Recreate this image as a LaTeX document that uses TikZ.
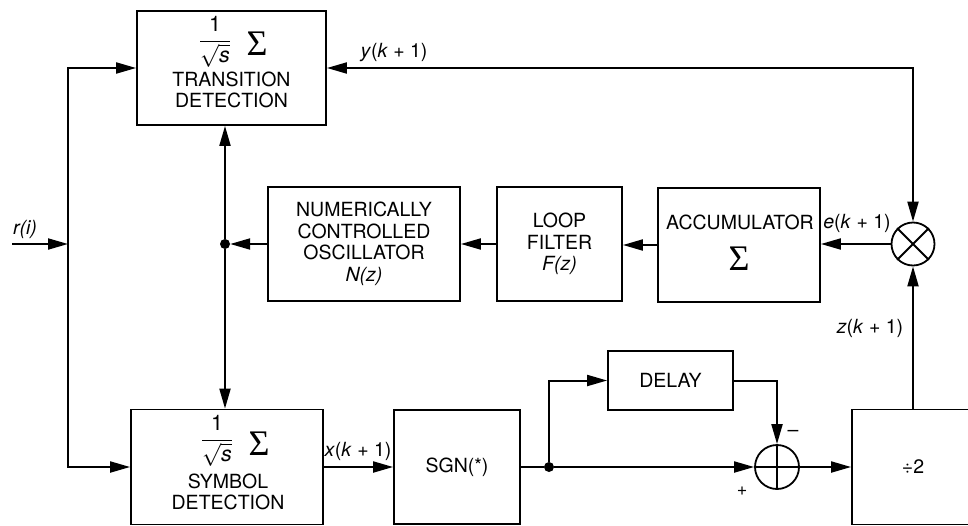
\documentclass[tikz,border=0pt]{standalone}
\usepackage{fontspec}
\setmainfont{TeX Gyre Heros}
\newfontfamily\sigmafont{Liberation Serif}
\usetikzlibrary{arrows.meta,calc}
\newcommand{\nfont}{\fontsize{19.5}{21.5}\selectfont}
\newcommand{\bigsig}{\(\vcenter{\hbox{\sigmafont\fontsize{36}{36}\selectfont Σ}}\)}
\newcommand{\invsqrt}{\scalebox{1.1}{\(\displaystyle\frac{\textrm{1}}{\sqrt{\textit{s}}}\)}}
\begin{document}
\begin{tikzpicture}[x=1pt,y=-1pt,
  font=\nfont,
  blk/.style={draw,line width=1.8pt,rectangle,inner sep=0pt,align=center},
  txt/.style={inner sep=0pt,align=center},
  arr/.style={line width=2pt,-{Triangle[length=20pt,width=11pt]}},
  arrb/.style={line width=2pt,{Triangle[length=20pt,width=11pt]}-{Triangle[length=20pt,width=11pt]}},
  ln/.style={line width=2pt},
  dot/.style={circle,fill,inner sep=0pt,minimum size=10pt},
  opc/.style={circle,draw,line width=1.8pt,inner sep=0pt,minimum size=43pt},
  lbl/.style={inner sep=0pt}]
\useasboundingbox (0,0) rectangle (968,525);
% blocks
\node[blk,minimum width=189pt,minimum height=114pt] (TD) at (231.5,68) {};
\node[txt] (TDf) at (215,42) {\invsqrt};
\node[txt] (TDs) at (257,44) {\bigsig};
\node[txt] (TDt) at (231.5,90) {TRANSITION\\DETECTION};
\node[blk,minimum width=192pt,minimum height=115pt] (SD) at (227,467) {};
\node[txt] (SDf) at (217,441) {\invsqrt};
\node[txt] (SDs) at (259,444) {\bigsig};
\node[txt] (SDt) at (228,492) {SYMBOL\\DETECTION};
\node[blk,minimum width=192pt,minimum height=114pt] (NCO) at (364,244)
  {NUMERICALLY\\CONTROLLED\\OSCILLATOR\\\textit{N(z)}};
\node[blk,minimum width=125pt,minimum height=114pt] (LF) at (559.5,244)
  {LOOP\\FILTER\\\textit{F(z)}};
\node[blk,minimum width=162pt,minimum height=114pt] (ACC) at (739,245) {};
\node[txt] (ACCt) at (740,222) {ACCUMULATOR};
\node[txt] (ACCs) at (739,259) {\bigsig};
\node[opc] (MUL) at (913,244) {};
\draw[ln] (MUL.north west) -- (MUL.south east) (MUL.north east) -- (MUL.south west);
\node[blk,minimum width=126pt,minimum height=114pt] (SGN) at (457,467) {SGN(*)};
\node[blk,minimum width=125pt,minimum height=59pt] (DL) at (670.5,380.5) {DELAY};
\node[opc,minimum size=44pt] (SUM) at (777,467) {};
\draw[line width=1.2pt] (SUM.north) -- (SUM.south) (SUM.west) -- (SUM.east);
\node[blk,minimum width=122pt,minimum height=115pt] (DIV) at (913,467) {÷2};
% junctions
\node[dot] (J) at (225,244) {};
\node[dot] (J2) at (549,467) {};
\coordinate (rin) at (12,244);
\coordinate (lv) at (68,244);
% connectors
\draw[arr] (rin) -- (lv);
\draw[arr] (lv) |- (TD.west);
\draw[arr] (lv) |- (SD.west);
\draw[arr] (NCO.west) -- (J);
\draw[arr] (J) -- (J |- TD.south);
\draw[arr] (J) -- (J |- SD.north);
\draw[arr] (LF.west) -- (NCO.east);
\draw[arr] (ACC.west) -- (ACC.west -| LF.east);
\draw[arr] (MUL.west) -- (MUL.west -| ACC.east);
\draw[arrb] (MUL.north) |- (TD.east);
\draw[arr] (DIV.north) -- (MUL.south);
\draw[arr] (SD.east) -- (SGN.west);
\draw[ln] (SGN.east) -- (J2);
\draw[arr] (J2) -- (SUM.west);
\draw[arr] (J2) |- (DL.west);
\draw[arr] (DL.east) -| (SUM.north);
\draw[arr] (SUM.east) -- (DIV.west);
% labels
\node[lbl] (ly) at (394,53) {\textit{y}(\textit{k} + 1)};
\node[lbl] (le) at (857,223) {\textit{e}(\textit{k} + 1)};
\node[lbl] (lz) at (870,328) {\textit{z}(\textit{k} + 1)};
\node[lbl] (lx) at (358,451) {\textit{x}(\textit{k} + 1)};
\node[lbl] (lr) at (25,229) {\textit{r(i)}};
\node[lbl] (lm) at (793,433) {–};
\node[lbl] (lp) at (742,491) {\fontsize{18}{18}\selectfont +};
\end{tikzpicture}
\end{document}
